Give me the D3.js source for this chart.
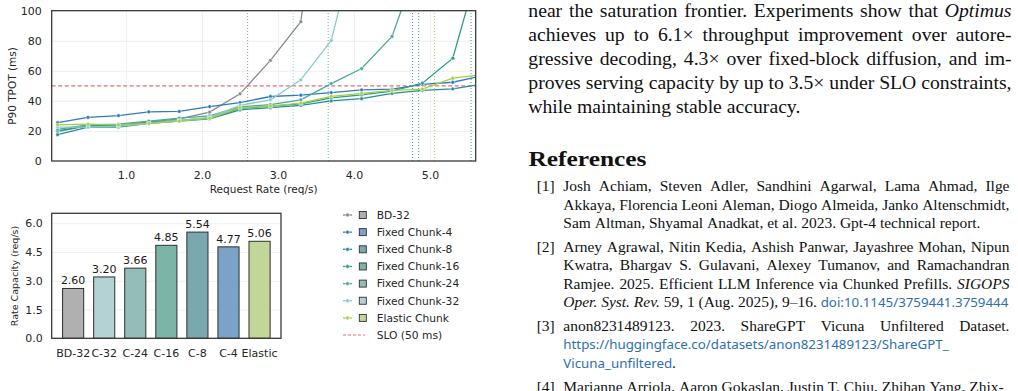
<!DOCTYPE html>
<html><head><meta charset="utf-8">
<script src="https://cdn.jsdelivr.net/npm/d3@7"></script>
<style>body{margin:0;background:#fff}svg{display:block}</style>
</head><body>
<svg id="c" width="1018" height="391"></svg>
<script>
// ---------------- DATA ----------------
const rates = [0.1,0.5,0.9,1.3,1.7,2.1,2.5,2.9,3.3,3.7,4.1,4.5,4.9,5.3,5.7];
const seriesNames = ["BD-32","Fixed Chunk-4","Fixed Chunk-8","Fixed Chunk-16","Fixed Chunk-24","Fixed Chunk-32","Elastic Chunk"];
const seriesShort = ["BD-32","C-4","C-8","C-16","C-24","C-32","Elastic"];
const tpotBD32    = [19.5,23.5,24.0,26.0,28.0,32.5,44.7,66.9,92.7,250];
const tpotFixed4  = [25.5,29.0,30.2,32.7,33.0,36.2,38.9,42.9,43.8,45.5,47.3,47.8,51.0,52.4,56.9];
const tpotFixed8  = [17.5,22.5,22.5,25.0,26.5,28.0,34.0,35.5,37.0,40.0,41.5,45.0,47.0,48.0,51.2];
const tpotFixed16 = [20.0,23.5,23.5,25.5,27.0,28.5,35.0,36.5,38.0,42.0,44.0,46.5,51.8,68.4,140];
const tpotFixed24 = [21.0,24.0,24.5,26.5,28.5,30.0,36.0,37.5,40.7,51.5,61.5,82.9,140];
const tpotFixed32 = [22.5,22.5,23.0,25.0,27.0,29.0,37.0,40.7,54.0,80.2,160];
const tpotElastic = [24.0,24.5,24.0,25.0,26.5,28.4,35.5,36.5,38.5,43.0,45.0,47.0,47.8,55.1,57.5];
const sloMs = 50;
const lineTicksX = [1,2,3,4,5];
const lineTicksY = [0,20,40,60,80,100];

const capacityLabels = ["BD-32","C-32","C-24","C-16","C-8","C-4","Elastic"];
const capacityValues = [2.60,3.20,3.66,4.85,5.54,4.77,5.06];
const barTicksY = [0,1.5,3,4.5,6];

const paragraphLines = [
  "near the saturation frontier. Experiments show that *Optimus*",
  "achieves up to 6.1× throughput improvement over autore-",
  "gressive decoding, 4.3× over fixed-block diffusion, and im-",
  "proves serving capacity by up to 3.5× under SLO constraints,",
  "while maintaining stable accuracy."
];
const refHeading = "References";
const refEntries = [
  ["Josh Achiam, Steven Adler, Sandhini Agarwal, Lama Ahmad, Ilge",
   "Akkaya, Florencia Leoni Aleman, Diogo Almeida, Janko Altenschmidt,",
   "Sam Altman, Shyamal Anadkat, et al. 2023. Gpt-4 technical report."],
  ["Arney Agrawal, Nitin Kedia, Ashish Panwar, Jayashree Mohan, Nipun",
   "Kwatra, Bhargav S. Gulavani, Alexey Tumanov, and Ramachandran",
   "Ramjee. 2025. Efficient LLM Inference via Chunked Prefills. *SIGOPS*",
   "*Oper. Syst. Rev.* 59, 1 (Aug. 2025), 9–16. {doi:10.1145/3759441.3759444}"],
  ["anon8231489123. 2023. ShareGPT Vicuna Unfiltered Dataset.",
   "{https://huggingface.co/datasets/anon8231489123/ShareGPT_}",
   "{Vicuna_unfiltered}."],
  ["Marianne Arriola, Aaron Gokaslan, Justin T. Chiu, Zhihan Yang, Zhix-"]
];

// ---------------- STYLES ----------------
const lineColors = {"BD-32":"#8a8a8a","C-4":"#2f7bbf","C-8":"#2a8c98","C-16":"#2a9d88","C-24":"#4aa89e","C-32":"#86cbcc","Elastic":"#a6cf3e"};
const barColors  = {"BD-32":"#b0b0b0","C-32":"#b4d2d4","C-24":"#95bdb8","C-16":"#7cb4a8","C-8":"#79a9af","C-4":"#7ba3c8","Elastic":"#c3d69a"};
const SANS = "DejaVu Sans";
const TXT = "#262626";

const svg = d3.select("#c");
svg.append("rect").attr("width",1018).attr("height",391).attr("fill","#fff");

// ---------------- LINE CHART ----------------
const lp = {l:51.7, r:475.7, t:10.7, b:161};
const x = d3.scaleLinear().domain([0.022,5.601]).range([lp.l,lp.r]);
const y = d3.scaleLinear().domain([0,100]).range([lp.b,lp.t]);

svg.append("clipPath").attr("id","clipL").append("rect")
  .attr("x",lp.l).attr("y",lp.t).attr("width",lp.r-lp.l).attr("height",lp.b-lp.t);

const gL = svg.append("g");
gL.append("g").attr("transform",`translate(0,${lp.b})`)
  .call(d3.axisBottom(x).tickValues(lineTicksX).tickSize(-(lp.b-lp.t)).tickFormat(""))
  .call(g=>{g.select(".domain").remove(); g.selectAll("line").attr("stroke","#ebebeb").attr("stroke-width",0.8);});
gL.append("g").attr("transform",`translate(${lp.l},0)`)
  .call(d3.axisLeft(y).tickValues(lineTicksY.filter(v=>v>0&&v<100)).tickSize(-(lp.r-lp.l)).tickFormat(""))
  .call(g=>{g.select(".domain").remove(); g.selectAll("line").attr("stroke","#ebebeb").attr("stroke-width",0.8);});

const seriesData = [tpotBD32,tpotFixed4,tpotFixed8,tpotFixed16,tpotFixed24,tpotFixed32,tpotElastic];
const plotG = gL.append("g").attr("clip-path","url(#clipL)");

seriesShort.forEach(s=>{
  const cap = capacityValues[capacityLabels.indexOf(s)];
  plotG.append("line").attr("x1",x(cap)).attr("x2",x(cap)).attr("y1",y(0)).attr("y2",y(100))
    .attr("stroke",lineColors[s]).attr("stroke-width",0.9).attr("stroke-dasharray","1,2");
});
plotG.append("line").attr("x1",lp.l).attr("x2",lp.r).attr("y1",y(sloMs)).attr("y2",y(sloMs))
  .attr("stroke","#e07070").attr("stroke-width",1.1).attr("stroke-dasharray","4,2.5");

const lineGen = d3.line().x(d=>x(d[0])).y(d=>y(d[1]));
seriesData.forEach((vals,i)=>{
  const s = seriesShort[i];
  const pts = vals.map((v,j)=>[rates[j],v]);
  plotG.append("path").datum(pts).attr("d",lineGen).attr("fill","none")
    .attr("stroke",lineColors[s]).attr("stroke-width",1.3);
  plotG.selectAll(null).data(pts).enter().append("circle")
    .attr("cx",d=>x(d[0])).attr("cy",d=>y(d[1])).attr("r",1.9)
    .attr("fill",lineColors[s]).attr("stroke","#fff").attr("stroke-width",0.5);
});

gL.append("g").attr("transform",`translate(0,${lp.b})`)
  .call(d3.axisBottom(x).tickValues(lineTicksX).tickSize(0).tickPadding(10).tickFormat(d3.format(".1f")))
  .call(g=>{g.select(".domain").remove(); g.selectAll("text").attr("font-family",SANS).attr("font-size",11).attr("fill",TXT);});
gL.append("g").attr("transform",`translate(${lp.l},0)`)
  .call(d3.axisLeft(y).tickValues(lineTicksY).tickSize(0).tickPadding(10).tickFormat(d3.format("d")))
  .call(g=>{g.select(".domain").remove(); g.selectAll("text").attr("font-family",SANS).attr("font-size",11).attr("fill",TXT);});
gL.append("rect").attr("x",lp.l).attr("y",lp.t).attr("width",lp.r-lp.l).attr("height",lp.b-lp.t)
  .attr("fill","none").attr("stroke","#3a3a3a").attr("stroke-width",1.3);
gL.append("text").attr("x",(lp.l+lp.r)/2).attr("y",193).attr("text-anchor","middle")
  .attr("font-family",SANS).attr("font-size",10.5).attr("fill",TXT).text("Request Rate (req/s)");
gL.append("text").attr("transform","translate(12,86) rotate(-90)").attr("dy","0.35em").attr("text-anchor","middle")
  .attr("font-family",SANS).attr("font-size",10.5).attr("fill",TXT).text("P90 TPOT (ms)");

// ---------------- BAR CHART ----------------
const bp = {l:51.7, r:281, t:213.3, b:338.3};
const xb = d3.scaleBand().domain(capacityLabels).range([bp.l,bp.r]).paddingInner(0.32).paddingOuter(0.35);
const yb = d3.scaleLinear().domain([0,6.52]).range([bp.b,bp.t]);
const gB = svg.append("g");
gB.append("g").attr("transform",`translate(${bp.l},0)`)
  .call(d3.axisLeft(yb).tickValues(barTicksY.filter(v=>v>0)).tickSize(-(bp.r-bp.l)).tickFormat(""))
  .call(g=>{g.select(".domain").remove(); g.selectAll("line").attr("stroke","#ececec").attr("stroke-width",0.8);});
gB.selectAll(null).data(capacityLabels).enter().append("rect")
  .attr("x",d=>xb(d)).attr("width",xb.bandwidth())
  .attr("y",(d,i)=>yb(capacityValues[i])).attr("height",(d,i)=>yb(0)-yb(capacityValues[i]))
  .attr("fill",d=>barColors[d]).attr("stroke","#2e2e2e").attr("stroke-width",1);
gB.selectAll(null).data(capacityLabels).enter().append("text")
  .attr("x",d=>xb(d)+xb.bandwidth()/2).attr("y",(d,i)=>yb(capacityValues[i])-4)
  .attr("text-anchor","middle").attr("font-family",SANS).attr("font-size",11).attr("fill","#1a1a1a")
  .text((d,i)=>d3.format(".2f")(capacityValues[i]));
gB.append("g").attr("transform",`translate(0,${bp.b})`)
  .call(d3.axisBottom(xb).tickSize(0).tickPadding(11))
  .call(g=>{g.select(".domain").remove(); g.selectAll("text").attr("font-family",SANS).attr("font-size",11).attr("fill",TXT);});
gB.append("g").attr("transform",`translate(${bp.l},0)`)
  .call(d3.axisLeft(yb).tickValues(barTicksY).tickSize(0).tickPadding(9).tickFormat(d3.format(".1f")))
  .call(g=>{g.select(".domain").remove(); g.selectAll("text").attr("font-family",SANS).attr("font-size",11).attr("fill",TXT);});
gB.append("rect").attr("x",bp.l).attr("y",bp.t).attr("width",bp.r-bp.l).attr("height",bp.b-bp.t)
  .attr("fill","none").attr("stroke","#3a3a3a").attr("stroke-width",1.3);
gB.append("text").attr("transform","translate(15,276) rotate(-90)").attr("dy","0.35em").attr("text-anchor","middle")
  .attr("font-family",SANS).attr("font-size",9.5).attr("fill",TXT).text("Rate Capacity (req/s)");

// ---------------- LEGEND ----------------
const lg = svg.append("g");
const legY = i => 215 + i*17.15;
seriesNames.forEach((name,i)=>{
  const s = seriesShort[i];
  const yy = legY(i);
  lg.append("line").attr("x1",343).attr("x2",352).attr("y1",yy).attr("y2",yy).attr("stroke",lineColors[s]).attr("stroke-width",1.3);
  lg.append("circle").attr("cx",347.5).attr("cy",yy).attr("r",1.9).attr("fill",lineColors[s]).attr("stroke","#fff").attr("stroke-width",0.5);
  lg.append("rect").attr("x",359.3).attr("y",yy-3.5).attr("width",7).attr("height",7)
    .attr("fill",barColors[s]).attr("stroke","#2e2e2e").attr("stroke-width",0.9);
  lg.append("text").attr("x",376.7).attr("y",yy).attr("dy","0.36em").attr("font-family",SANS).attr("font-size",10.7)
    .attr("fill",TXT).text(name);
});
{
  const yy = legY(seriesNames.length);
  lg.append("line").attr("x1",343).attr("x2",365).attr("y1",yy).attr("y2",yy).attr("stroke","#e07070")
    .attr("stroke-width",1.1).attr("stroke-dasharray","3,2");
  lg.append("text").attr("x",376.7).attr("y",yy).attr("dy","0.36em").attr("font-family",SANS).attr("font-size",10.7)
    .attr("fill",TXT).text(`SLO (${sloMs} ms)`);
}

// ---------------- PAPER TEXT ----------------
const SERIF = "Liberation Serif";
const LINKF = "Noto Sans";
const tg = svg.append("g").attr("fill","#111");
function parseLine(s){
  const segs=[]; const re=/\*([^*]+)\*|\{([^}]+)\}|([^*{]+)/g; let m;
  while((m=re.exec(s))){ if(m[1]) segs.push({t:m[1],st:"i"}); else if(m[2]) segs.push({t:m[2],st:"l"}); else segs.push({t:m[3],st:"n"}); }
  const words=[[]];
  segs.forEach(sg=>sg.t.split(" ").forEach((p,i)=>{ if(i>0) words.push([]); if(p) words[words.length-1].push({t:p,st:sg.st}); }));
  return words.filter(w=>w.length);
}
function makeWords(g, words, yy, fs){
  return words.map(w=>{
    const t = g.append("text").attr("y",yy).attr("font-family",SERIF).attr("font-size",fs);
    w.forEach(p=>{
      const ts = t.append("tspan").text(p.t);
      if(p.st==="i") ts.attr("font-style","italic");
      if(p.st==="l") ts.attr("font-family",LINKF).attr("font-size",fs*0.86).attr("fill","#2f6eb0");
    });
    return t;
  });
}
function naturalWidth(line, fs){
  const tmp = svg.append("g");
  const els = makeWords(tmp, parseLine(line), 0, fs);
  const w = d3.sum(els,e=>e.node().getComputedTextLength()) + (els.length-1)*0.25*fs;
  tmp.remove(); return w;
}
function drawLine(line, x0, x1, yy, fs, justify){
  const els = makeWords(tg, parseLine(line), yy, fs);
  const ws = els.map(e=>e.node().getComputedTextLength());
  const n = ws.length;
  let gap = 0.25*fs;
  if(justify && n>1) gap = (x1-x0-d3.sum(ws))/(n-1);
  let cx = x0;
  els.forEach((e,i)=>{ e.attr("x",cx); cx += ws[i]+gap; });
}
{
  const x0=528.3, x1=1011.5;
  const justified = paragraphLines.slice(0,-1);
  const fs = Math.min(20.5, 10*(x1-x0)/d3.max(justified,l=>naturalWidth(l,10)));
  paragraphLines.forEach((l,i)=>drawLine(l,x0,x1,17+i*24,fs,i<paragraphLines.length-1));
}
tg.append("text").attr("x",528.5).attr("y",165.5).attr("font-family",SERIF).attr("font-weight","bold")
  .attr("font-size",21).attr("textLength",118).attr("lengthAdjust","spacingAndGlyphs").text(refHeading);
{
  const x0=563.3, x1=1009.5, xn=536.7;
  const justified = [];
  refEntries.forEach(e=>e.slice(0,-1).forEach(l=>{ if(parseLine(l).length>1) justified.push(l); }));
  const fs = Math.min(15.5, 10*(x1-x0)/d3.max(justified,l=>naturalWidth(l,10)));
  let yy = 191;
  refEntries.forEach((entry,k)=>{
    tg.append("text").attr("x",xn).attr("y",yy).attr("font-family",SERIF).attr("font-size",fs).text(`[${k+1}]`);
    entry.forEach((l,i)=>{
      const isLast = i===entry.length-1;
      drawLine(l,x0,x1,yy,fs,!isLast && parseLine(l).length>1);
      yy += 18.5;
    });
    yy += 5.2;
  });
}
</script>
</body></html>
